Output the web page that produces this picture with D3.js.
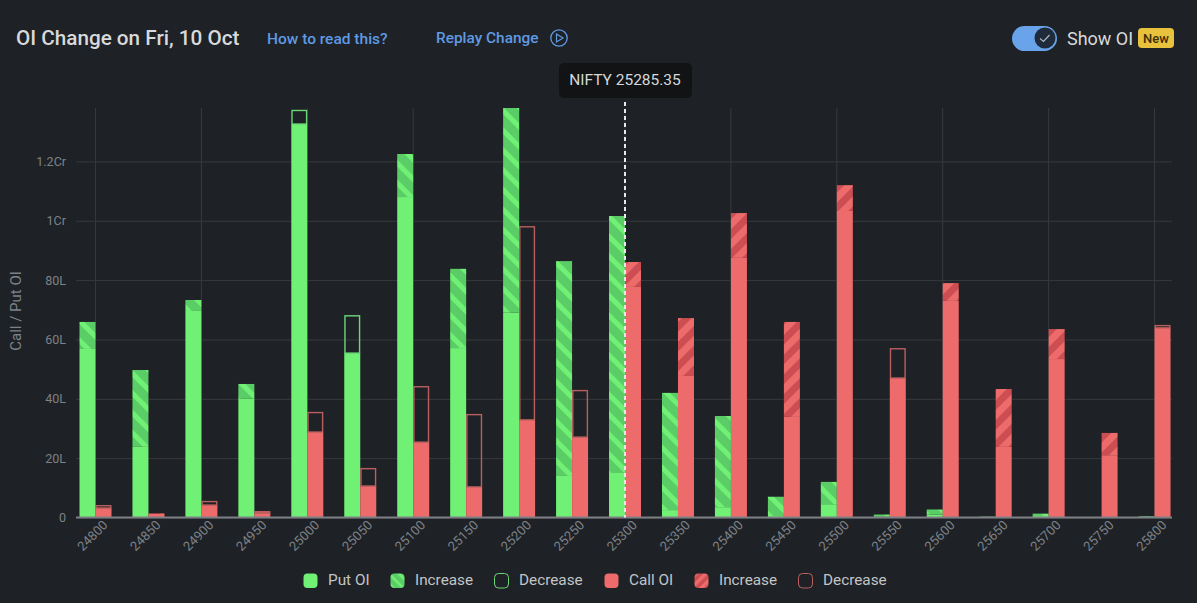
<!DOCTYPE html>
<html>
<head>
<meta charset="utf-8">
<title>OI Change</title>
<script src="https://cdn.jsdelivr.net/npm/d3@7"></script>
<style>
html, body { margin: 0; padding: 0; background: #1e2125; }
svg { display: block; font-family: Roboto, sans-serif; }
</style>
</head>
<body>
<svg id="chart" width="1197" height="603"></svg>
<script>
var strikes = [24800, 24850, 24900, 24950, 25000, 25050, 25100, 25150, 25200, 25250, 25300,
               25350, 25400, 25450, 25500, 25550, 25600, 25650, 25700, 25750, 25800];
// values in lakh
var putOI   = [65.9, 49.7, 73.3, 45.0, 132.6, 55.4, 122.5, 83.8, 138.0, 86.4, 101.6,
               42.0, 34.2, 7.0, 12.0, 1.0, 2.7, 0.3, 1.3, 0.1, 0.4];
var putPrev = [56.8, 23.8, 69.6, 40.0, 137.4, 68.2, 108.0, 57.1, 69.0, 14.0, 15.0,
               2.5, 3.5, 0.5, 4.5, 0.4, 1.0, 0.1, 0.5, 0.0, 0.1];
var callOI   = [3.2, 1.4, 4.2, 1.5, 28.8, 10.6, 25.4, 10.3, 32.9, 27.1, 86.1,
                67.2, 102.6, 65.9, 112.0, 47.0, 79.0, 43.3, 63.5, 28.5, 63.9];
var callPrev = [4.2, 1.2, 5.6, 2.2, 35.6, 16.7, 44.3, 34.9, 98.2, 43.0, 77.7,
                47.7, 87.5, 33.9, 103.3, 57.1, 73.0, 23.8, 53.4, 21.0, 64.9];
var yTicks = [0, 20, 40, 60, 80, 100, 120];
var yTickLabels = ["0", "20L", "40L", "60L", "80L", "1Cr", "1.2Cr"];
var legendLabels = ["Put OI", "Increase", "Decrease", "Call OI", "Increase", "Decrease"];
var niftyStrike = 25300;
var niftyLabel = "NIFTY 25285.35";

var GREEN = "#70f075", GREEN_DARK = "#5bcd66", GREEN_LINE = "#69d877";
var RED = "#ee6b6b", RED_DARK = "#cc4e52", RED_LINE = "#b9605f";
var GRID = "#373a3e", MUTED = "#7d8288";

var svg = d3.select("#chart");
var defs = svg.append("defs");

function hatch(id, base, stripe, angle, size, band) {
    var p = defs.append("pattern")
        .attr("id", id)
        .attr("patternUnits", "userSpaceOnUse")
        .attr("width", size)
        .attr("height", size)
        .attr("patternTransform", "rotate(" + angle + ")");
    p.append("rect").attr("width", size).attr("height", size).attr("fill", base);
    p.append("rect").attr("width", size).attr("height", band).attr("fill", stripe);
}
hatch("hatchPut", GREEN_DARK, GREEN, 45, 14, 5);
hatch("hatchCall", RED_DARK, RED, -45, 14, 7);
hatch("hatchPutLegend", GREEN_DARK, GREEN, 45, 7, 2.5);
hatch("hatchCallLegend", RED_DARK, RED, -45, 7, 3.5);

var x = d3.scaleBand().domain(strikes).range([69, 1181]);
var side = d3.scaleBand().domain(["put", "call"]).range([10.5, 42.5]);
var y = d3.scaleLinear().domain([0, 138]).range([517.5, 108]).clamp(true);

// grid and axes
var xAxis = d3.axisBottom(x).tickSize(-409.5).tickPadding(8);
var gx = svg.append("g").attr("transform", "translate(0,517.5)").call(xAxis);
gx.select(".domain").remove();
// only every other strike has a grid line
gx.selectAll(".tick line")
    .attr("stroke", GRID)
    .attr("display", function(d, i) { return i % 2 == 0 ? null : "none"; });
gx.selectAll(".tick text")
    .attr("fill", MUTED)
    .attr("font-size", 13)
    .attr("font-family", "Roboto, sans-serif")
    .attr("text-anchor", "end")
    .attr("dx", "0.25em")
    .attr("dy", "0.55em")
    .attr("transform", "rotate(-45)");

var yAxis = d3.axisLeft(y)
    .tickValues(yTicks)
    .tickFormat(function(d, i) { return yTickLabels[i]; })
    .tickSize(-1096)
    .tickPadding(10);
var gy = svg.append("g").attr("transform", "translate(76,0)").call(yAxis);
gy.select(".domain").remove();
gy.selectAll(".tick line").attr("stroke", GRID);
gy.selectAll(".tick text")
    .attr("fill", MUTED)
    .attr("font-size", 12.5)
    .attr("font-family", "Roboto, sans-serif");

svg.append("text")
    .attr("transform", "translate(21,311) rotate(-90)")
    .attr("text-anchor", "middle")
    .attr("fill", MUTED)
    .attr("font-size", 15)
    .text("Call / Put OI");

// bars
function drawSeries(name, cur, prev, solid, line, hatchId) {
    var g = svg.append("g").attr("class", name);
    var bx = function(d) { return x(strikes[d]) + side(name); };
    var bw = side.bandwidth();
    var idx = d3.range(strikes.length);

    g.selectAll("rect.base").data(idx).join("rect")
        .attr("class", "base")
        .attr("x", bx)
        .attr("width", bw)
        .attr("y", function(d) { return y(Math.min(cur[d], prev[d])); })
        .attr("height", function(d) { return y(0) - y(Math.min(cur[d], prev[d])); })
        .attr("fill", solid);

    g.selectAll("rect.inc").data(idx.filter(function(d) { return cur[d] > prev[d]; })).join("rect")
        .attr("class", "inc")
        .attr("x", bx)
        .attr("width", bw)
        .attr("y", function(d) { return y(cur[d]); })
        .attr("height", function(d) { return y(prev[d]) - y(cur[d]); })
        .attr("fill", "url(#" + hatchId + ")");

    g.selectAll("rect.dec").data(idx.filter(function(d) { return cur[d] < prev[d]; })).join("rect")
        .attr("class", "dec")
        .attr("x", function(d) { return bx(d) + 0.7; })
        .attr("width", bw - 1.4)
        .attr("y", function(d) { return y(prev[d]) + 0.7; })
        .attr("height", function(d) { return Math.max(0, y(cur[d]) - y(prev[d]) - 0.7); })
        .attr("fill", "none")
        .attr("stroke", line)
        .attr("stroke-width", 1.4);
}
drawSeries("put", putOI, putPrev, GREEN, GREEN_LINE, "hatchPut");
drawSeries("call", callOI, callPrev, RED, RED_LINE, "hatchCall");

// base line on top of bars
svg.append("line")
    .attr("x1", 76).attr("x2", 1172)
    .attr("y1", y(0)).attr("y2", y(0))
    .attr("stroke", "#7c7f84")
    .attr("stroke-width", 2);

// nifty marker
var nx = x(niftyStrike) + x.bandwidth() / 2;
svg.append("line")
    .attr("x1", nx).attr("x2", nx)
    .attr("y1", 102).attr("y2", y(0))
    .attr("stroke", "#e6e8ea")
    .attr("stroke-width", 2)
    .attr("stroke-dasharray", "4 3");
svg.append("rect")
    .attr("x", nx - 66).attr("y", 63)
    .attr("width", 133).attr("height", 35)
    .attr("rx", 5)
    .attr("fill", "#121315");
svg.append("text")
    .attr("x", nx).attr("y", 85)
    .attr("text-anchor", "middle")
    .attr("fill", "#d5d9dc")
    .attr("font-size", 15.5)
    .text(niftyLabel);

// header
svg.append("text").attr("x", 16).attr("y", 45)
    .attr("fill", "#d8d9da").attr("font-size", 20.7).attr("font-weight", 500)
    .text("OI Change on Fri, 10 Oct");
svg.append("text").attr("x", 267).attr("y", 44)
    .attr("fill", "#5f9ae3").attr("font-size", 15.5).attr("font-weight", 500)
    .text("How to read this?");
svg.append("text").attr("x", 436).attr("y", 43)
    .attr("fill", "#5f9ae3").attr("font-size", 15.4).attr("font-weight", 500)
    .text("Replay Change");
svg.append("circle").attr("cx", 559).attr("cy", 38).attr("r", 8.2)
    .attr("fill", "none").attr("stroke", "#5f9ae3").attr("stroke-width", 1.3);
svg.append("path").attr("d", "M556.5 34 L563 38 L556.5 42 Z")
    .attr("fill", "none").attr("stroke", "#5f9ae3").attr("stroke-width", 1.2);

// toggle
svg.append("rect").attr("x", 1012).attr("y", 26).attr("width", 45).attr("height", 25)
    .attr("rx", 12.5).attr("fill", "#69a3ea");
svg.append("circle").attr("cx", 1045).attr("cy", 38).attr("r", 10.5).attr("fill", "#1f2a3b");
svg.append("path").attr("d", "M1040 38.5 L1043.5 41.5 L1049.5 35")
    .attr("fill", "none").attr("stroke", "#aeb7c2").attr("stroke-width", 1.2);
svg.append("text").attr("x", 1067).attr("y", 44.5)
    .attr("fill", "#d8d9da").attr("font-size", 18)
    .text("Show OI");
svg.append("rect").attr("x", 1138).attr("y", 28).attr("width", 36).attr("height", 20)
    .attr("rx", 4).attr("fill", "#e8c13d");
svg.append("text").attr("x", 1156).attr("y", 42.5)
    .attr("text-anchor", "middle")
    .attr("fill", "#3d2e05").attr("font-size", 13).attr("font-weight", 500)
    .text("New");

// legend
var legendX = d3.scaleOrdinal().domain(d3.range(6)).range([303, 390, 494, 604, 694, 798]);
var legendFill = [GREEN, "url(#hatchPutLegend)", "none", RED, "url(#hatchCallLegend)", "none"];
var legendStroke = ["none", "none", GREEN_LINE, "none", "none", RED_LINE];

var leg = svg.append("g").selectAll("g").data(legendLabels).join("g")
    .attr("transform", function(d, i) { return "translate(" + legendX(i) + ",573)"; });
leg.append("rect")
    .attr("x", 0.5).attr("y", 0.5).attr("width", 14).attr("height", 14.5).attr("rx", 4)
    .attr("fill", function(d, i) { return legendFill[i]; })
    .attr("stroke", function(d, i) { return legendStroke[i]; });
leg.append("text")
    .attr("x", 25).attr("y", 12)
    .attr("fill", "#c2c5c8")
    .attr("font-size", 15.3)
    .text(function(d) { return d; });
</script>
</body>
</html>
